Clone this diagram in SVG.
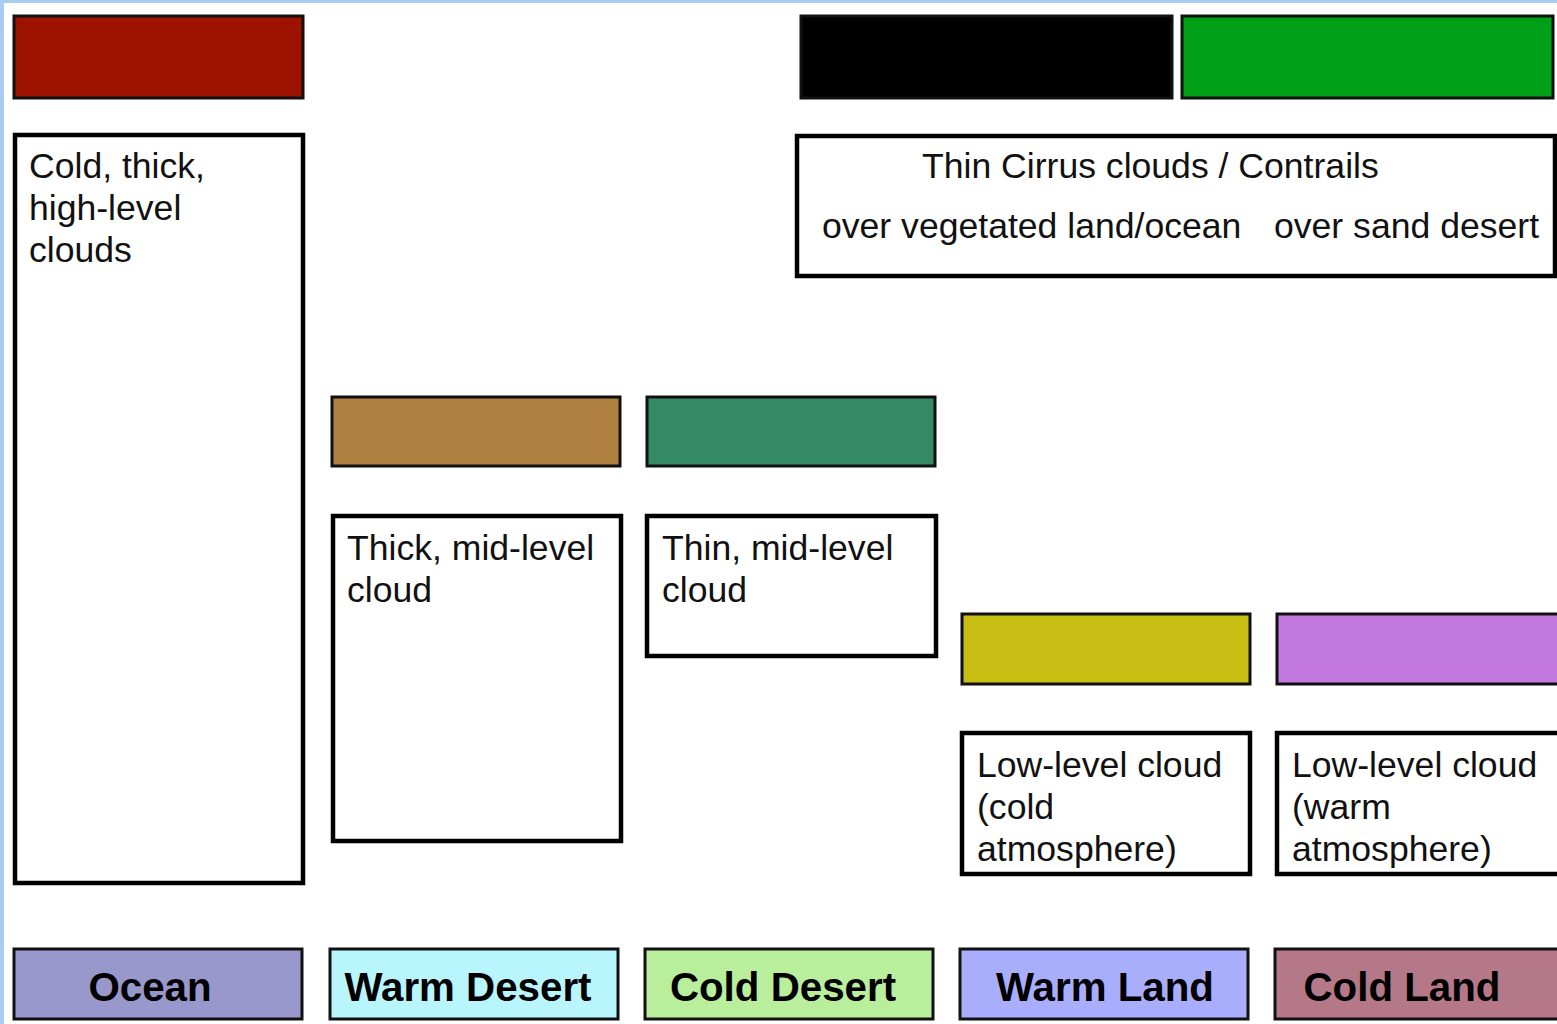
<svg xmlns="http://www.w3.org/2000/svg" width="1557" height="1024" viewBox="0 0 1557 1024">
<style>
.sw{stroke:#111;stroke-width:3}
.bx{fill:#fff;stroke:#000;stroke-width:4.5}
.t{font-family:"Liberation Sans",Arial,sans-serif;font-size:35.6px;fill:#111}
.b{font-family:"Liberation Sans",Arial,sans-serif;font-size:40.3px;font-weight:bold;fill:#000;text-anchor:middle}
</style>
<rect x="0" y="0" width="1557" height="1024" fill="#fff"/>
<rect x="0" y="0" width="4" height="1024" fill="#a9cdf2"/>
<rect x="0" y="0" width="1557" height="3" fill="#a9cdf2"/>
<g id="high-cold-swatch"><rect class="sw" x="14" y="16" width="289" height="82" fill="#9e1300"/></g>
<g id="high-cold"><rect class="bx" x="15" y="135" width="288" height="748"/>
<text class="t" x="29" y="178">Cold, thick,</text><text class="t" x="29" y="220">high-level</text><text class="t" x="29" y="262">clouds</text></g>
<g id="cirrus-veg-swatch"><rect class="sw" x="801" y="16" width="371" height="82" fill="#000"/></g>
<g id="cirrus-desert-swatch"><rect class="sw" x="1182" y="16" width="371" height="82" fill="#00a116"/></g>
<g id="cirrus"><rect class="bx" x="797" y="136" width="758" height="140"/>
<text class="t" x="922" y="178">Thin Cirrus clouds / Contrails</text>
<text class="t" x="822" y="238">over vegetated land/ocean</text>
<text class="t" x="1274" y="238">over sand desert</text></g>
<g id="thick-mid-swatch"><rect class="sw" x="332" y="397" width="288" height="69" fill="#b08040"/></g>
<g id="thin-mid-swatch"><rect class="sw" x="647" y="397" width="288" height="69" fill="#348a64"/></g>
<g id="thick-mid"><rect class="bx" x="333" y="516" width="288" height="325"/>
<text class="t" x="347" y="560">Thick, mid-level</text><text class="t" x="347" y="602">cloud</text></g>
<g id="thin-mid"><rect class="bx" x="647" y="516" width="289" height="140"/>
<text class="t" x="662" y="560">Thin, mid-level</text><text class="t" x="662" y="602">cloud</text></g>
<g id="low-cold-swatch"><rect class="sw" x="962" y="614" width="288" height="70" fill="#c9bf14"/></g>
<g id="low-warm-swatch"><rect class="sw" x="1277" y="614" width="290" height="70" fill="#c479e0"/></g>
<g id="low-cold"><rect class="bx" x="962" y="733" width="288" height="141"/>
<text class="t" x="977" y="777">Low-level cloud</text><text class="t" x="977" y="819">(cold</text><text class="t" x="977" y="861">atmosphere)</text></g>
<g id="low-warm"><rect class="bx" x="1277" y="733" width="290" height="141"/>
<text class="t" x="1292" y="777">Low-level cloud</text><text class="t" x="1292" y="819">(warm</text><text class="t" x="1292" y="861">atmosphere)</text></g>
<g id="ocean"><rect class="sw" x="14" y="949" width="288" height="70" fill="#9898cc"/><text class="b" x="150" y="1001">Ocean</text></g>
<g id="warm-desert"><rect class="sw" x="330" y="949" width="288" height="70" fill="#b9f5fc"/><text class="b" x="468" y="1001">Warm Desert</text></g>
<g id="cold-desert"><rect class="sw" x="645" y="949" width="288" height="70" fill="#b8ee9c"/><text class="b" x="783" y="1001">Cold Desert</text></g>
<g id="warm-land"><rect class="sw" x="960" y="949" width="288" height="70" fill="#a8aefc"/><text class="b" x="1105" y="1001">Warm Land</text></g>
<g id="cold-land"><rect class="sw" x="1275" y="949" width="292" height="70" fill="#b47888"/><text class="b" x="1402" y="1001">Cold Land</text></g>
<g id="connectors"></g>
</svg>
